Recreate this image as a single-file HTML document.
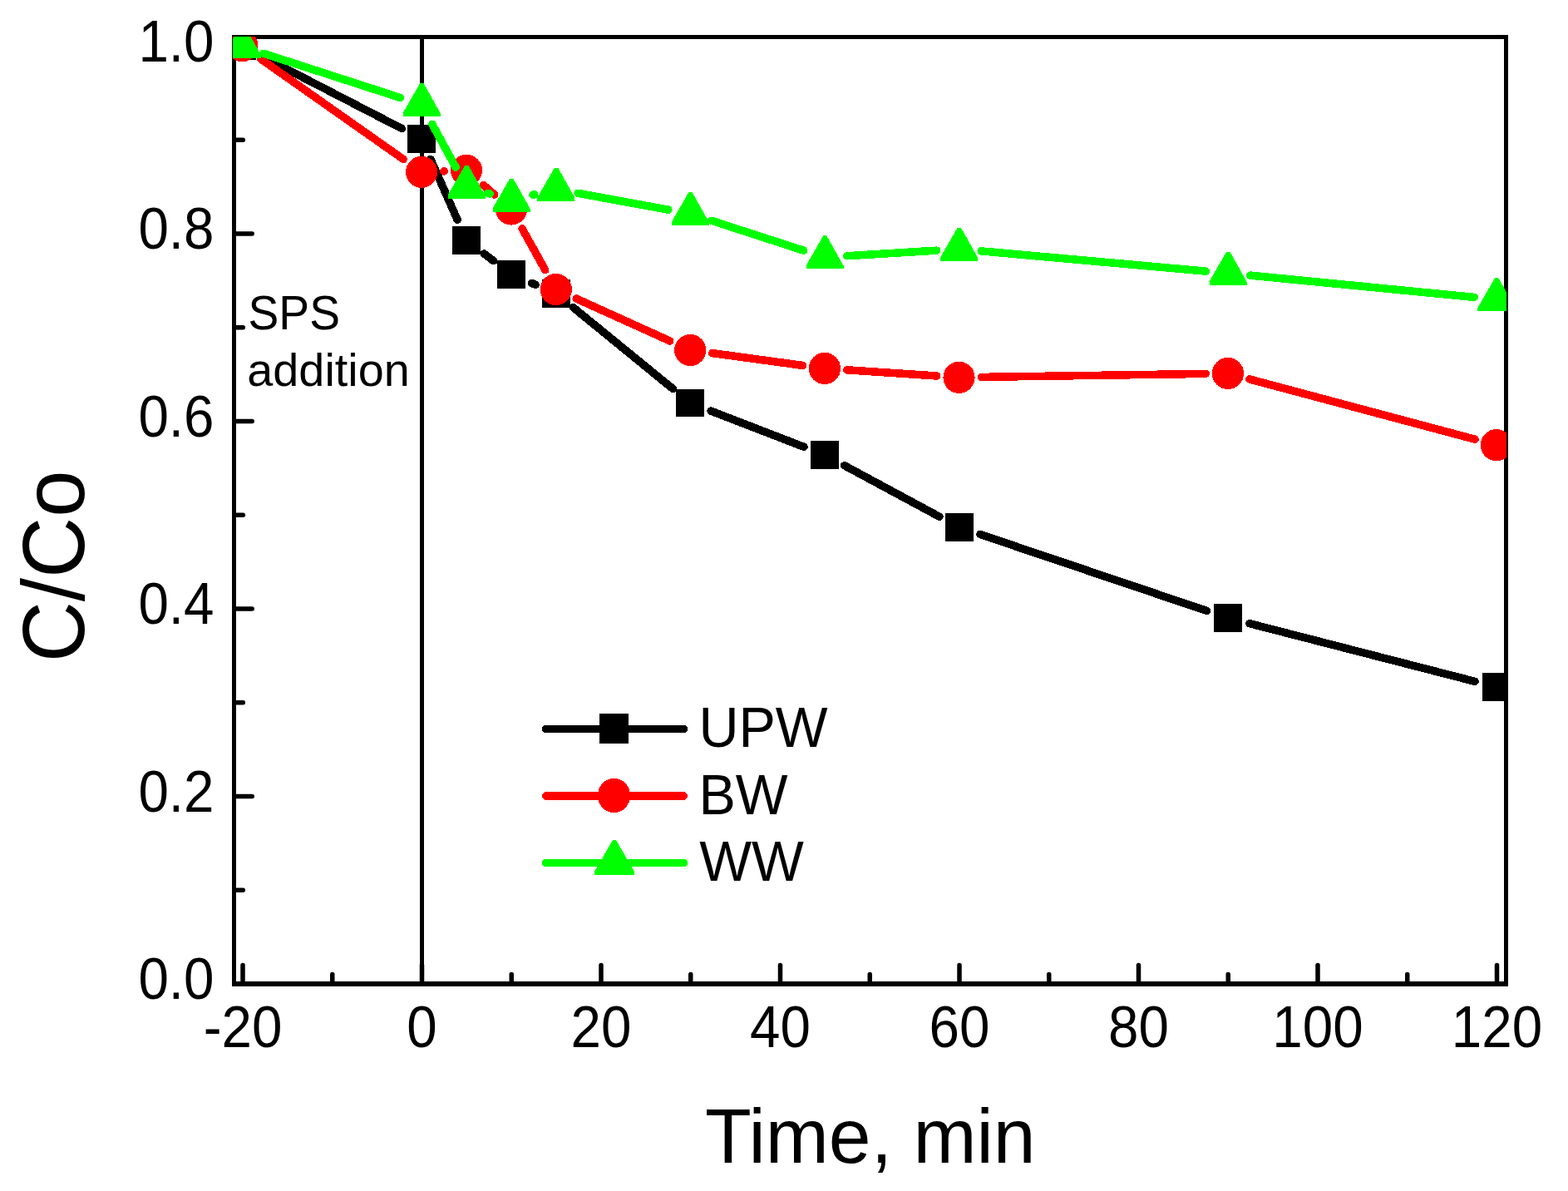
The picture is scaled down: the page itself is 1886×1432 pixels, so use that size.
<!DOCTYPE html>
<html lang="en">
<head>
<meta charset="utf-8">
<title>C/Co vs Time, min</title>
<style>
html,body{margin:0;padding:0;background:#fff;}
body{width:1886px;height:1432px;overflow:hidden;font-family:"Liberation Sans",sans-serif;}
svg{display:block;}
</style>
</head>
<body>
<svg width="1886" height="1432" viewBox="0 0 1886 1432" font-family="'Liberation Sans', sans-serif" fill="#000" role="img" aria-label="C/Co versus time for UPW, BW and WW">
<rect width="1886" height="1432" fill="#fff"/>
<defs><clipPath id="plot"><rect x="280" y="44" width="1532" height="1139"/></clipPath></defs>
<g id="axes" fill="#000" shape-rendering="crispEdges">
<rect x="279" y="42" width="1535" height="5"/>
<rect x="279" y="1180" width="1535" height="6"/>
<rect x="279" y="42" width="5" height="1144"/>
<rect x="1809" y="42" width="5" height="1144"/>
</g>
<g id="ticks" stroke="#000" stroke-width="5.5" stroke-linecap="round">
<line x1="292" y1="1180" x2="292" y2="1160.6"/>
<line x1="399.75" y1="1180" x2="399.75" y2="1171.5"/>
<line x1="507.5" y1="1180" x2="507.5" y2="1160.6"/>
<line x1="615.25" y1="1180" x2="615.25" y2="1171.5"/>
<line x1="723" y1="1180" x2="723" y2="1160.6"/>
<line x1="830.75" y1="1180" x2="830.75" y2="1171.5"/>
<line x1="938.5" y1="1180" x2="938.5" y2="1160.6"/>
<line x1="1046.25" y1="1180" x2="1046.25" y2="1171.5"/>
<line x1="1154" y1="1180" x2="1154" y2="1160.6"/>
<line x1="1261.75" y1="1180" x2="1261.75" y2="1171.5"/>
<line x1="1369.5" y1="1180" x2="1369.5" y2="1160.6"/>
<line x1="1477.25" y1="1180" x2="1477.25" y2="1171.5"/>
<line x1="1585" y1="1180" x2="1585" y2="1160.6"/>
<line x1="1692.75" y1="1180" x2="1692.75" y2="1171.5"/>
<line x1="1800.5" y1="1180" x2="1800.5" y2="1160.6"/>
<line x1="284" y1="1183" x2="303.2" y2="1183"/>
<line x1="284" y1="1070.25" x2="292.3" y2="1070.25"/>
<line x1="284" y1="957.5" x2="303.2" y2="957.5"/>
<line x1="284" y1="844.75" x2="292.3" y2="844.75"/>
<line x1="284" y1="732" x2="303.2" y2="732"/>
<line x1="284" y1="619.25" x2="292.3" y2="619.25"/>
<line x1="284" y1="506.5" x2="303.2" y2="506.5"/>
<line x1="284" y1="393.75" x2="292.3" y2="393.75"/>
<line x1="284" y1="281" x2="303.2" y2="281"/>
<line x1="284" y1="168.25" x2="292.3" y2="168.25"/>
<line x1="284" y1="55.5" x2="303.2" y2="55.5"/>
</g>
<g id="data" clip-path="url(#plot)" shape-rendering="crispEdges" stroke-width="9.5" stroke-linecap="round">
<rect x="505" y="42" width="5" height="1144" fill="#000"/>
<line x1="315.21" y1="67.71" x2="483.29" y2="154.59" stroke="#000"/>
<line x1="517.94" y1="191.41" x2="550.16" y2="264.29" stroke="#000"/>
<line x1="582.31" y1="305.06" x2="593.69" y2="313.74" stroke="#000"/>
<line x1="639.68" y1="340.46" x2="644.12" y2="342.34" stroke="#000"/>
<line x1="689.56" y1="369.74" x2="809.44" y2="467.56" stroke="#000"/>
<line x1="855.2" y1="494.16" x2="967" y2="537.34" stroke="#000"/>
<line x1="1015.6" y1="559.7" x2="1129.9" y2="621.2" stroke="#000"/>
<line x1="1178.89" y1="642.46" x2="1451.61" y2="734.44" stroke="#000"/>
<line x1="1502.96" y1="749.67" x2="1773.94" y2="819.33" stroke="#000"/>
<rect x="274.4" y="38.65" width="34" height="33.5" fill="#000"/>
<rect x="490.1" y="150.15" width="34" height="33.5" fill="#000"/>
<rect x="544" y="272.05" width="34" height="33.5" fill="#000"/>
<rect x="598" y="313.25" width="34" height="33.5" fill="#000"/>
<rect x="651.8" y="336.05" width="34" height="33.5" fill="#000"/>
<rect x="813.2" y="467.75" width="34" height="33.5" fill="#000"/>
<rect x="975" y="530.25" width="34" height="33.5" fill="#000"/>
<rect x="1136.5" y="617.15" width="34" height="33.5" fill="#000"/>
<rect x="1460" y="726.25" width="34" height="33.5" fill="#000"/>
<rect x="1782.9" y="809.25" width="34" height="33.5" fill="#000"/>
<line x1="313.32" y1="70.62" x2="485.18" y2="191.48" stroke="#f00"/>
<line x1="533.88" y1="205.91" x2="534.22" y2="205.89" stroke="#f00"/>
<line x1="581.29" y1="222.41" x2="594.71" y2="233.99" stroke="#f00"/>
<line x1="628.05" y1="274.91" x2="655.75" y2="324.59" stroke="#f00"/>
<line x1="693.22" y1="359.04" x2="805.78" y2="409.96" stroke="#f00"/>
<line x1="856.76" y1="424.61" x2="965.44" y2="439.39" stroke="#f00"/>
<line x1="1018.74" y1="444.79" x2="1126.76" y2="452.01" stroke="#f00"/>
<line x1="1180.3" y1="453.4" x2="1450.2" y2="449.4" stroke="#f00"/>
<line x1="1502.9" y1="455.9" x2="1774" y2="528.2" stroke="#f00"/>
<circle cx="291.4" cy="55.2" r="19.1" fill="#f00"/>
<circle cx="507.1" cy="206.9" r="19.1" fill="#f00"/>
<circle cx="561" cy="204.9" r="19.1" fill="#f00"/>
<circle cx="615" cy="251.5" r="19.1" fill="#f00"/>
<circle cx="668.8" cy="348" r="19.1" fill="#f00"/>
<circle cx="830.2" cy="421" r="19.1" fill="#f00"/>
<circle cx="992" cy="443" r="19.1" fill="#f00"/>
<circle cx="1153.5" cy="453.8" r="19.1" fill="#f00"/>
<circle cx="1477" cy="449" r="19.1" fill="#f00"/>
<circle cx="1799.9" cy="535.1" r="19.1" fill="#f00"/>
<line x1="316.9" y1="64.25" x2="481.6" y2="117.55" stroke="#0f0"/>
<line x1="519.92" y1="149.33" x2="548.18" y2="201.17" stroke="#0f0"/>
<line x1="586.71" y1="232.27" x2="589.29" y2="233.03" stroke="#0f0"/>
<line x1="641.04" y1="234.26" x2="642.76" y2="233.84" stroke="#0f0"/>
<line x1="695.16" y1="232.32" x2="803.84" y2="252.18" stroke="#0f0"/>
<line x1="855.7" y1="265.26" x2="966.5" y2="301.14" stroke="#0f0"/>
<line x1="1018.75" y1="307.76" x2="1126.75" y2="301.14" stroke="#0f0"/>
<line x1="1180.19" y1="301.89" x2="1450.31" y2="326.11" stroke="#0f0"/>
<line x1="1503.67" y1="331.1" x2="1773.23" y2="357.4" stroke="#0f0"/>
<polygon points="289.7,30 293.7,30 313.9,66 313.9,70 268.9,70 268.9,66" fill="#0f0"/>
<polygon points="505.4,99.8 509.4,99.8 529.6,135.8 529.6,139.8 484.6,139.8 484.6,135.8" fill="#0f0"/>
<polygon points="559.3,198.7 563.3,198.7 583.5,234.7 583.5,238.7 538.5,238.7 538.5,234.7" fill="#0f0"/>
<polygon points="613.3,214.6 617.3,214.6 637.5,250.6 637.5,254.6 592.5,254.6 592.5,250.6" fill="#0f0"/>
<polygon points="667.1,201.5 671.1,201.5 691.3,237.5 691.3,241.5 646.3,241.5 646.3,237.5" fill="#0f0"/>
<polygon points="828.5,231 832.5,231 852.7,267 852.7,271 807.7,271 807.7,267" fill="#0f0"/>
<polygon points="990.3,283.4 994.3,283.4 1014.5,319.4 1014.5,323.4 969.5,323.4 969.5,319.4" fill="#0f0"/>
<polygon points="1151.8,273.5 1155.8,273.5 1176,309.5 1176,313.5 1131,313.5 1131,309.5" fill="#0f0"/>
<polygon points="1475.3,302.5 1479.3,302.5 1499.5,338.5 1499.5,342.5 1454.5,342.5 1454.5,338.5" fill="#0f0"/>
<polygon points="1798.2,334 1802.2,334 1822.4,370 1822.4,374 1777.4,374 1777.4,370" fill="#0f0"/>
</g>
<g id="xlabels">
<text transform="translate(292 1259) scale(0.936 1)" font-size="70.0px" text-anchor="middle">-20</text>
<text transform="translate(507.5 1259) scale(0.936 1)" font-size="70.0px" text-anchor="middle">0</text>
<text transform="translate(723 1259) scale(0.936 1)" font-size="70.0px" text-anchor="middle">20</text>
<text transform="translate(938.5 1259) scale(0.936 1)" font-size="70.0px" text-anchor="middle">40</text>
<text transform="translate(1154 1259) scale(0.936 1)" font-size="70.0px" text-anchor="middle">60</text>
<text transform="translate(1369.5 1259) scale(0.936 1)" font-size="70.0px" text-anchor="middle">80</text>
<text transform="translate(1585 1259) scale(0.936 1)" font-size="70.0px" text-anchor="middle">100</text>
<text transform="translate(1800.5 1259) scale(0.936 1)" font-size="70.0px" text-anchor="middle">120</text>
</g>
<g id="ylabels">
<text transform="translate(257.5 1201) scale(0.936 1)" font-size="70.0px" text-anchor="end">0.0</text>
<text transform="translate(257.5 975.5) scale(0.936 1)" font-size="70.0px" text-anchor="end">0.2</text>
<text transform="translate(257.5 750) scale(0.936 1)" font-size="70.0px" text-anchor="end">0.4</text>
<text transform="translate(257.5 524.5) scale(0.936 1)" font-size="70.0px" text-anchor="end">0.6</text>
<text transform="translate(257.5 299) scale(0.936 1)" font-size="70.0px" text-anchor="end">0.8</text>
<text transform="translate(257.5 73.5) scale(0.936 1)" font-size="70.0px" text-anchor="end">1.0</text>
</g>
<text transform="translate(1046.8 1398) scale(0.977 1)" font-size="93.5px" text-anchor="middle">Time, min</text>
<text transform="translate(100.5 680.9) rotate(-90) scale(0.954 1)" font-size="106.2px" text-anchor="middle">C/Co</text>
<text transform="translate(298.5 396.3) scale(0.96 1)" font-size="57.5px">SPS</text>
<text transform="translate(297.3 463.9)" font-size="55.8px">addition</text>
<g id="legend" shape-rendering="crispEdges" stroke-linecap="round">
<line x1="656.7" y1="876.5" x2="822.3" y2="876.5" stroke="#000" stroke-width="9.5"/>
<rect x="721" y="858" width="35" height="36" fill="#000"/>
<line x1="656.7" y1="957" x2="822.3" y2="957" stroke="#f00" stroke-width="9.5"/>
<ellipse cx="738.5" cy="956.5" rx="19.6" ry="20.6" fill="#f00"/>
<line x1="656.7" y1="1037.5" x2="822.3" y2="1037.5" stroke="#0f0" stroke-width="9.5"/>
<polygon points="737,1010 741,1010 763,1048 763,1052 715,1052 715,1048" fill="#0f0"/>
</g>
<text transform="translate(840.4 898) scale(0.972 1)" font-size="68.5px">UPW</text>
<text transform="translate(840.4 978.8) scale(0.972 1)" font-size="68.5px">BW</text>
<text transform="translate(841.2 1059.4) scale(0.972 1)" font-size="68.5px">WW</text>
</svg>
</body>
</html>
